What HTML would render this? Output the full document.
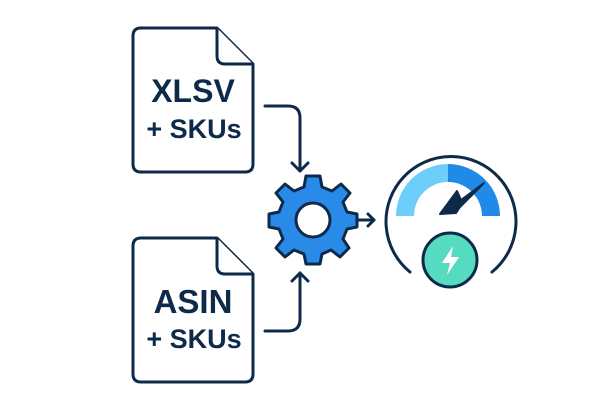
<!DOCTYPE html>
<html><head><style>body{margin:0;background:#fff}svg{display:block}</style></head>
<body>
<svg width="600" height="400" viewBox="0 0 600 400" xmlns="http://www.w3.org/2000/svg">
<g fill="#fff" stroke="#0d2a4a" stroke-width="3" stroke-linejoin="round">
<path d="M141,28 H217 L253,64 V164 Q253,172 245,172 H141 Q133,172 133,164 V36 Q133,28 141,28 Z"/>
<path d="M217,28 V56 Q217,64 225,64 H253"/>
<path d="M141,238 H217 L253,274 V374 Q253,382 245,382 H141 Q133,382 133,374 V246 Q133,238 141,238 Z"/>
<path d="M217,238 V266 Q217,274 225,274 H253"/>
</g>
<g font-family="Liberation Sans, sans-serif" font-weight="bold" fill="#0d2a4a" text-anchor="middle">
<text x="193" y="102" font-size="32">XLSV</text>
<text x="194" y="138" font-size="27">+ SKUs</text>
<text x="193" y="313" font-size="33">ASIN</text>
<text x="194" y="348" font-size="27">+ SKUs</text>
</g>
<g fill="none" stroke="#0d2a4a" stroke-width="3" stroke-linecap="round" stroke-linejoin="round">
<path d="M265,106 H288 Q300,106 300,118 V171"/>
<path d="M292,163 L300,171 L308,163"/>
<path d="M265,331 H288 Q300,331 300,319 V273"/>
<path d="M292,281 L300,273 L308,281"/>
<path d="M355,220 H374"/>
<path d="M368,214 L374,220 L368,226"/>
</g>
<g transform="translate(313,220)">
<path fill="#2a8ae8" stroke="#0d2a4a" stroke-width="3" stroke-linejoin="round" d="
M-7,-44 H7 L9,-33 L19,-29 L28,-36 L37,-27 L30,-18 L34,-8 L44,-6 V7 L34,9 L30,19 L36,28 L27,37 L18,30 L9,34 L7,44 H-7 L-9,34 L-19,30 L-28,37 L-37,28 L-30,19 L-34,9 L-44,7 V-6 L-34,-8 L-30,-18 L-37,-27 L-28,-36 L-19,-29 L-9,-33 Z"/>
<circle r="17" fill="#fff" stroke="#0d2a4a" stroke-width="3"/>
</g>
<path d="M396,216 A52,52 0 0 1 448,164 V182 A34,34 0 0 0 414,216 Z" fill="#6dcdfb"/>
<path d="M448,164 A52,52 0 0 1 500,216 H482 A34,34 0 0 0 448,182 Z" fill="#1f8ae8"/>
<path d="M410,272 A65,65 0 1 1 492,272" fill="none" stroke="#0d2a4a" stroke-width="3" stroke-linecap="round"/>
<path d="M484,183 L460,207 L456,213 L440,214 L457,191 L461,200 Z" fill="#0d2a4a" stroke="#0d2a4a" stroke-width="2" stroke-linejoin="round"/>
<circle cx="450" cy="260" r="27" fill="#55dcc0" stroke="#0d2a4a" stroke-width="3"/>
<path d="M453,246 L442,263 H450 L447,275 L459,257 H451 Z" fill="#fff"/>
</svg>
</body></html>
